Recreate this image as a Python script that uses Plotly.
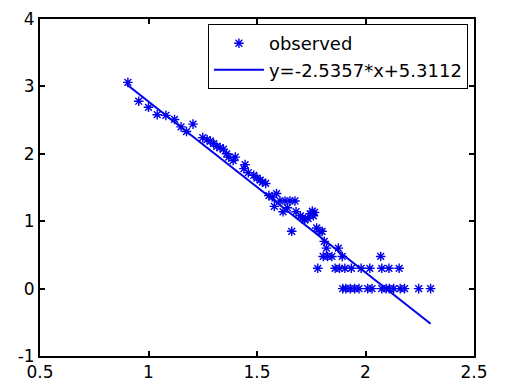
import plotly.graph_objects as go

x_obs = [0.905, 0.955, 1.0, 1.04, 1.08, 1.12, 1.15, 1.175, 1.205, 1.25, 1.27, 1.285,
         1.30, 1.315, 1.33, 1.345, 1.36, 1.37, 1.40, 1.39, 1.445, 1.44, 1.46, 1.485,
         1.50, 1.515, 1.525, 1.54, 1.555, 1.57, 1.59, 1.58, 1.606, 1.629, 1.652, 1.675,
         1.62, 1.64, 1.66, 1.68, 1.70, 1.71, 1.72, 1.735, 1.745, 1.755, 1.76, 1.765,
         1.775, 1.79, 1.80, 1.81, 1.82, 1.805, 1.825, 1.845, 1.875, 1.893, 2.07,
         1.78, 1.86, 1.88, 1.905, 1.935, 1.98, 2.02, 2.075, 2.108, 2.155,
         1.895, 1.91, 1.93, 1.95, 1.97, 2.01, 2.03, 2.075, 2.095, 2.11, 2.13, 2.16,
         2.18, 2.245, 2.30]
y_obs = [3.06, 2.78, 2.69, 2.58, 2.57, 2.51, 2.40, 2.33, 2.44, 2.24, 2.21, 2.19,
         2.15, 2.11, 2.09, 2.07, 2.00, 1.95, 1.95, 1.90, 1.84, 1.78, 1.72, 1.68,
         1.64, 1.61, 1.58, 1.56, 1.38, 1.36, 1.41, 1.22, 1.30, 1.30, 1.30, 1.30,
         1.14, 1.20, 0.85, 1.14, 1.08, 1.05, 1.02, 1.04, 1.11, 1.15, 1.08, 1.13,
         0.90, 0.85, 0.85, 0.70, 0.60, 0.477, 0.477, 0.477, 0.60, 0.477, 0.477,
         0.301, 0.301, 0.301, 0.301, 0.301, 0.301, 0.301, 0.301, 0.301, 0.301,
         0, 0, 0, 0, 0, 0, 0, 0, 0, 0, 0, 0, 0, 0, 0]

# fitted line
slope = -2.5357
intercept = 5.3112
x_fit = [0.9, 2.3]
y_fit = [slope * v + intercept for v in x_fit]

x_ticks = [0.5, 1, 1.5, 2, 2.5]
x_tick_text = ["0.5", "1", "1.5", "2", "2.5"]
y_ticks = [-1, 0, 1, 2, 3, 4]
y_tick_text = ["-1", "0", "1", "2", "3", "4"]

BLUE = "rgb(0,0,235)"

fig = go.Figure()
fig.add_trace(go.Scatter(
    x=x_obs, y=y_obs, mode="markers", name="observed",
    marker=dict(symbol="asterisk-open", size=8, color=BLUE,
                line=dict(color=BLUE, width=1.4)),
))
fig.add_trace(go.Scatter(
    x=x_fit, y=y_fit, mode="lines", name="y=-2.5357*x+5.3112",
    line=dict(color=BLUE, width=2),
))

axis_common = dict(
    showgrid=False, zeroline=False, showline=True, linecolor="black", linewidth=2,
    mirror="ticks", ticks="inside", ticklen=5, tickwidth=1.5, tickcolor="black",
    automargin=False, ticklabeloverflow="allow",
    tickfont=dict(family="DejaVu Sans", size=17, color="black"),
)
fig.update_xaxes(range=[0.5, 2.5], tickvals=x_ticks, ticktext=x_tick_text, **axis_common)
fig.update_yaxes(range=[-1, 4], tickvals=y_ticks, ticktext=y_tick_text, **axis_common)

fig.update_layout(
    template="none",
    width=510, height=389,
    margin=dict(l=32, r=44, t=11, b=41),
    plot_bgcolor="white", paper_bgcolor="white",
    showlegend=True,
    legend=dict(
        x=0.986, y=0.985, xanchor="right", yanchor="top",
        bordercolor="black", borderwidth=1, bgcolor="white",
        font=dict(family="DejaVu Sans", size=18, color="black"),
        tracegroupgap=0, itemwidth=50,
    ),
)

fig.write_html("out.html")
